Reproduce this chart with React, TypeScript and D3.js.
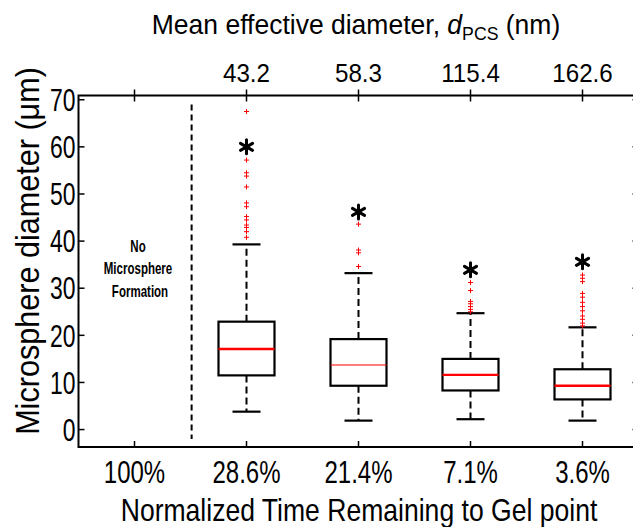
import React from "react";
import * as d3 from "d3";

// ---------- data ----------
const categories = ["100%", "28.6%", "21.4%", "7.1%", "3.6%"];
const topLabels = ["", "43.2", "58.3", "115.4", "162.6"];
const yTicks = [0, 10, 20, 30, 40, 50, 60, 70];

// boxes exist for categories 1..4
const boxIndex = [1, 2, 3, 4];
const whiskerLow = [3.8, 1.9, 2.2, 1.9];
const q1 = [11.5, 9.3, 8.3, 6.4];
const median = [17.1, 13.7, 11.6, 9.3];
const q3 = [22.9, 19.2, 15.0, 12.8];
const whiskerHigh = [39.3, 33.2, 24.7, 21.7];
const outliers1 = [67.5, 57.2, 54.5, 53.8, 51.5, 48.1, 47.3, 45.2, 44.5, 43.4, 42.9, 42.0, 40.8];
const outliers2 = [43.6, 38.1, 37.5, 34.6];
const outliers3 = [31.2, 29.5, 27.2, 26.7, 26.1, 25.5, 25.0];
const outliers4 = [32.8, 32.1, 31.4, 28.9, 28.1, 27.0, 26.1, 25.2, 24.1, 23.4, 22.6, 22.0];
const outliers = [outliers1, outliers2, outliers3, outliers4];
const significance = [60.0, 46.2, 33.9, 35.6];
const dividerPos = 0.51;

// ---------- layout ----------
const W = 633;
const H = 527;
const FONT = "'Liberation Sans', Arial, sans-serif";

const x = d3.scaleLinear().domain([-0.5, 4.5]).range([78.5, 638.5]);
const y = d3.scaleLinear().domain([-3.7, 70.9]).range([447, 95.5]);

const BOX_W = 0.5; // in category units
const CAP_W = 0.25;

type STextProps = {
  x: number;
  y: number;
  sx: number;
  size: number;
  anchor?: string;
  weight?: string;
  rotate?: number;
  dy?: string;
  children: React.ReactNode;
};

function SText({ x: tx, y: ty, sx, size, anchor = "middle", weight = "normal", rotate = 0, dy, children }: STextProps) {
  return (
    <g transform={`translate(${tx},${ty}) rotate(${rotate}) scale(${sx},1)`}>
      <text x={0} y={0} dy={dy} textAnchor={anchor} fontSize={size} fontWeight={weight} fill="#000">
        {children}
      </text>
    </g>
  );
}

function Asterisk({ cx, cy }: { cx: number; cy: number }) {
  const r = 7;
  const arms = [90, 30, -30].map((a) => {
    const rad = (a * Math.PI) / 180;
    const dx = r * Math.cos(rad);
    const dy = r * Math.sin(rad);
    return `M${cx - dx},${cy - dy}L${cx + dx},${cy + dy}`;
  });
  return <path d={arms.join("")} stroke="#000" strokeWidth={3} strokeLinecap="round" fill="none" />;
}

export default function App() {
  const [x0, x1] = x.range();
  const [yb, yt] = y.range();
  const medianWidths = [2.4, 1.2, 2.4, 2.4];
  const step = x(1) - x(0);

  return (
    <svg
      width={W}
      height={H}
      style={{ position: "absolute", left: 0, top: 0, background: "#fff" }}
      fontFamily={FONT}
    >
      <rect x={0} y={0} width={W} height={H} fill="#fff" />

      {/* frame */}
      <rect x={x0} y={yt} width={x1 - x0} height={yb - yt} fill="none" stroke="#000" strokeWidth={2} />

      {/* left ticks + labels */}
      {yTicks.map((t) => (
        <g key={t}>
          <line x1={x0} x2={x0 + 6} y1={y(t)} y2={y(t)} stroke="#000" strokeWidth={1.5} />
          <line x1={x1} x2={x1 - 6} y1={y(t)} y2={y(t)} stroke="#000" strokeWidth={1.5} />
          <SText x={x0 - 3} y={y(t)} dy="0.36em" anchor="end" size={31} sx={0.74}>
            {t}
          </SText>
        </g>
      ))}

      {/* bottom & top ticks */}
      {categories.map((c, i) => (
        <g key={c}>
          <line x1={x(i)} x2={x(i)} y1={yb} y2={yb - 6} stroke="#000" strokeWidth={1.5} />
          <line x1={x(i)} x2={x(i)} y1={yt - 6} y2={yt + 6} stroke="#000" strokeWidth={1.5} />
          <SText x={x(i)} y={483} size={32} sx={0.75}>
            {c}
          </SText>
          <SText x={x(i)} y={82} size={26} sx={0.93}>
            {topLabels[i]}
          </SText>
        </g>
      ))}

      {/* divider */}
      <line
        x1={x(dividerPos)}
        x2={x(dividerPos)}
        y1={y(69)}
        y2={y(-2)}
        stroke="#000"
        strokeWidth={2}
        strokeDasharray="6,4"
      />

      {/* No Microsphere Formation */}
      <SText x={138} y={251.5} size={16} sx={0.72} weight="bold">
        No
      </SText>
      <SText x={138} y={274} size={16} sx={0.72} weight="bold">
        Microsphere
      </SText>
      <SText x={140} y={296.5} size={16} sx={0.72} weight="bold">
        Formation
      </SText>

      {/* boxes */}
      {boxIndex.map((ci, k) => {
        const cx = x(ci);
        const bw = step * BOX_W;
        const cw = step * CAP_W;
        return (
          <g key={ci}>
            <line x1={cx} x2={cx} y1={y(q3[k])} y2={y(whiskerHigh[k])} stroke="#000" strokeWidth={2} strokeDasharray="7,4" />
            <line x1={cx} x2={cx} y1={y(q1[k])} y2={y(whiskerLow[k])} stroke="#000" strokeWidth={2} strokeDasharray="7,4" />
            <line x1={cx - cw / 2} x2={cx + cw / 2} y1={y(whiskerHigh[k])} y2={y(whiskerHigh[k])} stroke="#000" strokeWidth={2.2} />
            <line x1={cx - cw / 2} x2={cx + cw / 2} y1={y(whiskerLow[k])} y2={y(whiskerLow[k])} stroke="#000" strokeWidth={2.2} />
            <rect
              x={cx - bw / 2}
              y={y(q3[k])}
              width={bw}
              height={y(q1[k]) - y(q3[k])}
              fill="none"
              stroke="#000"
              strokeWidth={2.2}
            />
            <line x1={cx - bw / 2} x2={cx + bw / 2} y1={y(median[k])} y2={y(median[k])} stroke="#ff0000" strokeWidth={medianWidths[k]} />
            {outliers[k].map((v, j) => (
              <path
                key={j}
                d={`M${cx - 2.5},${y(v)}H${cx + 2.5}M${cx},${y(v) - 2.5}V${y(v) + 2.5}`}
                stroke="#ff0000"
                strokeWidth={1}
                fill="none"
              />
            ))}
            <Asterisk cx={cx} cy={y(significance[k])} />
          </g>
        );
      })}

      {/* axis titles */}
      <SText x={356} y={34} size={28.5} sx={0.93}>
        Mean effective diameter,{" "}
        <tspan fontStyle="italic">d</tspan>
        <tspan fontSize={19} dy={6}>PCS</tspan>
        <tspan dy={-6}> (nm)</tspan>
      </SText>
      <SText x={359} y={521} size={32} sx={0.83}>
        Normalized Time Remaining to Gel point
      </SText>
      <SText x={39} y={251} size={34} sx={0.9} rotate={-90}>
        Microsphere diameter (μm)
      </SText>
    </svg>
  );
}
